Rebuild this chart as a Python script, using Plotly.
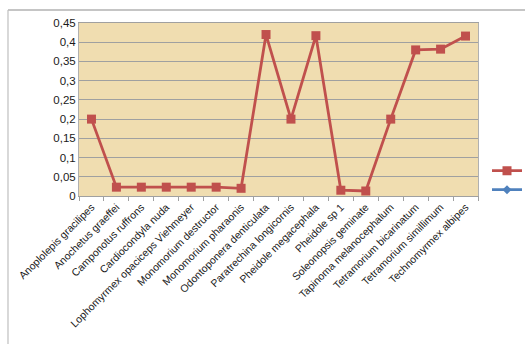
import plotly.graph_objects as go

categories = [
    "Anoplolepis gracilipes", "Anochetus graeffei", "Camponotus ruffrons",
    "Cardiocondyla nuda", "Lophomyrmex opaciceps Viehmeyer", "Monomorium destructor",
    "Monomorium pharaonis", "Odontoponera denticulata", "Paratrechina longicornis",
    "Pheidole megacephala", "Pheidole sp 1", "Soleonopsis geminate",
    "Tapinoma melanocephalum", "Tetramorium bicarinatum", "Tetramorium simillimum",
    "Technomyrmex albipes",
]
series_red = [0.2, 0.023, 0.023, 0.023, 0.023, 0.023, 0.02, 0.42, 0.2, 0.417,
              0.015, 0.013, 0.2, 0.38, 0.382, 0.416]
series_blue = [None] * len(categories)

ytick_vals = [0, 0.05, 0.1, 0.15, 0.2, 0.25, 0.3, 0.35, 0.4, 0.45]
ytick_text = ["0", "0,05", "0,1", "0,15", "0,2", "0,25", "0,3", "0,35", "0,4", "0,45"]

fig = go.Figure()
fig.add_trace(go.Scatter(
    x=categories, y=series_red, name="", mode="lines+markers",
    line=dict(color="#C0504D", width=2.8),
    marker=dict(symbol="square", size=9, color="#C0504D"),
))
fig.add_trace(go.Scatter(
    x=categories, y=series_blue, name=" ", mode="lines+markers",
    line=dict(color="#4F81BD", width=2.8),
    marker=dict(symbol="diamond", size=7, color="#4F81BD"),
))

# outer chart frame
fig.add_shape(type="line", xref="paper", yref="paper",
              x0=-71/399, x1=447/399, y0=186/173, y1=186/173,
              line=dict(color="#8C8C8C", width=1.2))
fig.add_shape(type="line", xref="paper", yref="paper",
              x0=-71/399, x1=-71/399, y0=186/173, y1=-150/173,
              line=dict(color="#BFBFBF", width=1.2))

fig.update_layout(
    width=525, height=344,
    margin=dict(l=79, r=47, t=23, b=148, autoexpand=False),
    paper_bgcolor="white",
    plot_bgcolor="#F0DDB0",
    font=dict(family="Liberation Sans, Arial, sans-serif", size=11, color="#1a1a1a"),
    showlegend=True,
    legend=dict(x=(487 - 79) / 399, y=0.23, xanchor="left", yanchor="top",
                bgcolor="rgba(0,0,0,0)", font=dict(size=11),
                itemwidth=30, tracegroupgap=9),
    xaxis=dict(
        type="category", tickangle=-45, ticks="outside", tickson="boundaries",
        ticklen=4, tickcolor="#A0A0A0", showgrid=False, automargin=False,
        showline=True, linecolor="#A0A0A0", linewidth=1, mirror=True,
        tickfont=dict(size=10.5, color="#1a1a1a"),
        range=[-0.5, len(categories) - 0.5],
    ),
    yaxis=dict(
        range=[0, 0.45], tickvals=ytick_vals, ticktext=ytick_text,
        showgrid=True, gridcolor="#A0A0A0", gridwidth=1, automargin=False,
        showline=True, linecolor="#B0B0B0", linewidth=1, mirror=True,
        ticks="", zeroline=False,
        tickfont=dict(size=11.5, color="#1a1a1a"),
    ),
)

fig.write_html("out.html")
